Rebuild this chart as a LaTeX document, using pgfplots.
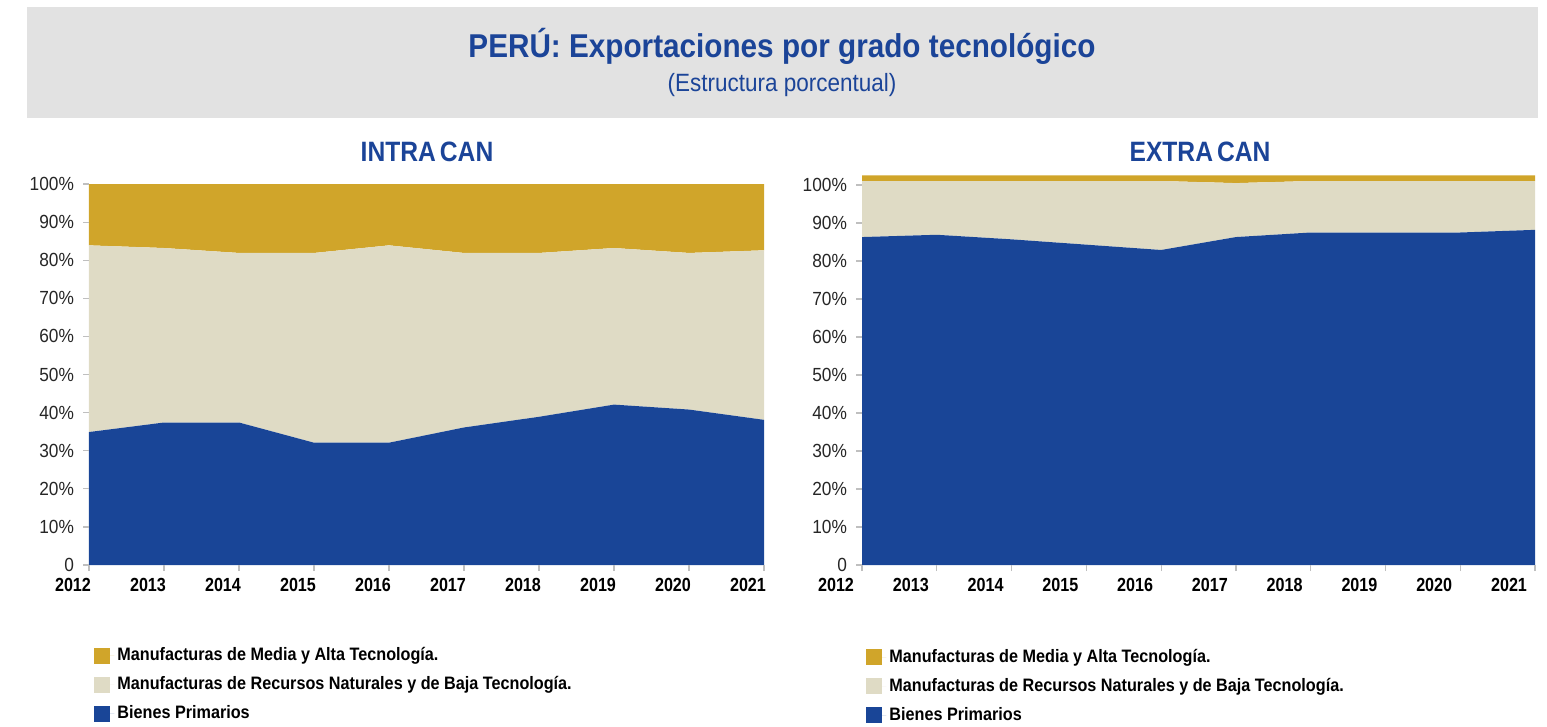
\documentclass[border=0pt]{standalone}
\usepackage{fontspec}
\setmainfont{Liberation Sans}
\newfontfamily\cnT{Liberation Sans}[FakeStretch=0.90]
\newfontfamily\cnA{Liberation Sans}[FakeStretch=0.88]
\newfontfamily\cnB{Liberation Sans}[FakeStretch=0.85]
\newfontfamily\cnY{Liberation Sans}[FakeStretch=0.91]
\newfontfamily\cnL{Liberation Sans}[FakeStretch=0.90]
\usepackage{pgfplots}
\pgfplotsset{compat=1.18}
\definecolor{cblue}{RGB}{25,69,151}
\definecolor{cgold}{RGB}{208,165,42}
\definecolor{cbeige}{RGB}{223,219,197}
\definecolor{cbanner}{RGB}{226,226,226}
\definecolor{ctitle}{RGB}{27,68,152}

\pgfplotstableread{
year prim rnbt mat
2012 34.9 49.0 16.1
2013 37.4 45.8 16.8
2014 37.4 44.5 18.1
2015 32.1 49.8 18.1
2016 32.1 51.8 16.1
2017 36.1 45.8 18.1
2018 38.9 43.0 18.1
2019 42.1 41.1 16.8
2020 40.8 41.1 18.1
2021 38.1 44.5 17.4
}\intra

\pgfplotstableread{
year prim rnbt mat
2012 86.3 14.75 1.5
2013 86.9 14.15 1.5
2014 85.7 15.35 1.5
2015 84.3 16.75 1.5
2016 82.9 18.15 1.5
2017 86.3 14.20 2.05
2018 87.5 13.55 1.5
2019 87.5 13.55 1.5
2020 87.5 13.55 1.5
2021 88.2 12.85 1.5
}\extra

\pgfplotsset{
  panel/.style={
    scale only axis,
    stack plots=y,
    area style,
    xmin=2012, xmax=2021, ymin=0,
    xtick={2012,2013,...,2021},
    xticklabels={2012,2013,2014,2015,2016,2017,2018,2019,2020,2021},
    ytick={0,10,...,100},
    yticklabels={0,10\%,20\%,30\%,40\%,50\%,60\%,70\%,80\%,90\%,100\%},
    tick align=outside,
    xtick pos=bottom, ytick pos=left,
    major tick length=3pt,
    tick style={color=black!25, line width=0.6pt},
    axis line style={draw=none},
    xticklabel style={font=\cnB\bfseries\fontsize{9.5}{10}\selectfont, text=black},
    yticklabel style={font=\cnY\fontsize{9.5}{10}\selectfont, text=black!85, xshift=-1pt},
    legend style={draw=none, fill=none, inner sep=0pt, anchor=north west,
      font=\cnL\bfseries\fontsize{9}{10}\selectfont, row sep=2.5pt,
      nodes={inner sep=1.5pt, text height=7pt, text depth=2pt}},
    legend cell align=left,
    reverse legend,
    legend image code/.code={\fill[##1] (0pt,-4pt) rectangle (8pt,4pt); \path (0pt,0pt) -- (10pt,0pt);},
  }
}

\begin{document}
\begin{tikzpicture}
\useasboundingbox (0,0) rectangle (773.5pt,-363.5pt);
\fill[cbanner] (13.5pt,-3.5pt) rectangle (769pt,-59pt);
\node[font=\cnT\bfseries\fontsize{16.5}{18}\selectfont, text=ctitle] at (391pt,-23pt) {PERÚ: Exportaciones por grado tecnológico};
\node[font=\cnL\fontsize{12.5}{14}\selectfont, text=ctitle] at (391pt,-42.5pt) {(Estructura porcentual)};
\node[font=\cnA\bfseries\fontsize{14}{16}\selectfont, text=ctitle] at (213.5pt,-76pt) {INTRA\hspace{2pt}CAN};
\node[font=\cnA\bfseries\fontsize{14}{16}\selectfont, text=ctitle] at (600pt,-76pt) {EXTRA\hspace{2pt}CAN};

\begin{axis}[panel, at={(44.5pt,-282.5pt)}, anchor=south west,
  width=337.5pt, height=190.5pt, ymax=100,
  xticklabel style={xshift=-8pt},
  legend style={at={(0.0074,-0.205)}}]
\addplot[fill=cblue, draw=none] table[x=year, y=prim] {\intra} \closedcycle;
\addlegendentry{Bienes Primarios}
\addplot[fill=cbeige, draw=none] table[x=year, y=rnbt] {\intra} \closedcycle;
\addlegendentry{Manufacturas de Recursos Naturales y de Baja Tecnología.}
\addplot[fill=cgold, draw=none] table[x=year, y=mat] {\intra} \closedcycle;
\addlegendentry{Manufacturas de Media y Alta Tecnología.}
\end{axis}

\begin{axis}[panel, at={(431pt,-282.5pt)}, anchor=south west,
  width=336.5pt, height=194.75pt, ymax=102.5,
  xticklabel style={xshift=-13pt},
  legend style={at={(0.006,-0.205)}}]
\addplot[fill=cblue, draw=none] table[x=year, y=prim] {\extra} \closedcycle;
\addlegendentry{Bienes Primarios}
\addplot[fill=cbeige, draw=none] table[x=year, y=rnbt] {\extra} \closedcycle;
\addlegendentry{Manufacturas de Recursos Naturales y de Baja Tecnología.}
\addplot[fill=cgold, draw=none] table[x=year, y=mat] {\extra} \closedcycle;
\addlegendentry{Manufacturas de Media y Alta Tecnología.}
\end{axis}
\end{tikzpicture}
\end{document}
